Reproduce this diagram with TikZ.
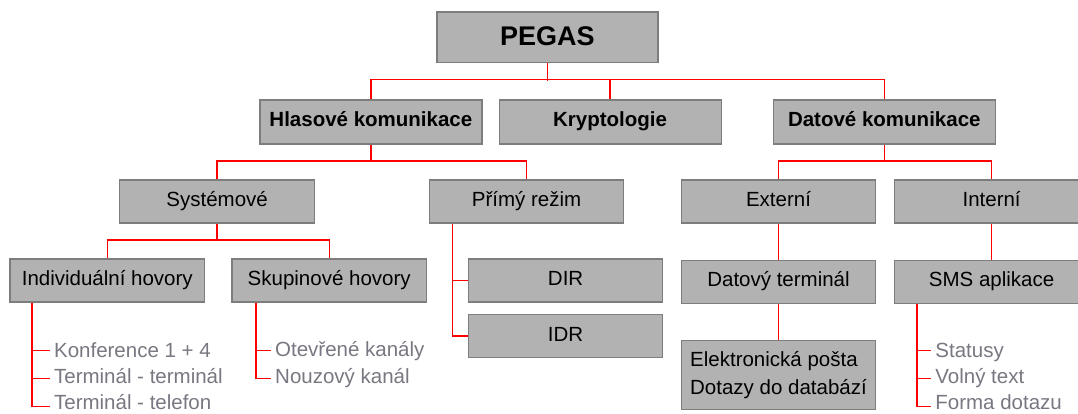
\documentclass[tikz,border=0pt]{standalone}
\usepackage{fontspec}
\setmainfont{Liberation Sans}
\usetikzlibrary{positioning}

\definecolor{boxfill}{RGB}{178,178,178}
\definecolor{boxedge}{RGB}{125,125,125}
\definecolor{itemgray}{RGB}{120,120,130}

\begin{document}
\begin{tikzpicture}[
    x=1pt, y=-1pt,
    every node/.style={font=\fontsize{20.5}{24}\selectfont},
    cell/.style={draw=boxedge, fill=boxfill, line width=1.2pt, minimum width=194.5pt, minimum height=43pt, inner sep=0pt},
    unit/.style={cell, text height=15pt, text depth=5pt},
    head/.style={unit, minimum width=222pt, minimum height=44pt, font=\fontsize{20.5}{24}\selectfont\bfseries},
    item/.style={anchor=west, inner xsep=4pt, inner ysep=0pt, text height=14pt, text depth=0pt, text=itemgray},
    link/.style={draw=red, line width=1.4pt}
]
\fill[white] (0,0) rectangle (1078,414);
\useasboundingbox (0,0) rectangle (1078,414);

% top and first level
\node[head, minimum width=221pt, minimum height=50.7pt, text height=20pt, text depth=4pt, font=\fontsize{27}{30}\selectfont\bfseries] (pegas) at (547.4,37.4) {PEGAS};
\node[head] (hlas) at (370.9,122) {Hlasové komunikace};
\node[head, right=16pt of hlas] (kryp) {Kryptologie};
\node[head, right=51pt of kryp] (datk) {Datové komunikace};

% second level
\node[unit] (syst) at (217.1,201.5) {Systémové};
\node[unit, right=113.8pt of syst] (prim) {Přímý režim};
\node[unit, right=56.2pt of prim] (ext) {Externí};
\node[unit, right=17.4pt of ext] (int) {Interní};

% third level
\node[unit] (indiv) at (107.3,280.5) {Individuální hovory};
\node[unit, right=26.2pt of indiv] (skup) {Skupinové hovory};
\node[unit] (dir) at (565.6,280.5) {DIR};
\node[unit, below=11.3pt of dir] (idr) {IDR};
\node[unit, below=36pt of ext] (dterm) {Datový terminál};
\node[unit, below=36pt of int] (sms) {SMS aplikace};
\node[cell, below=36pt of dterm, minimum height=69.3pt, align=left, font=\fontsize{20.5}{28}\selectfont] (epost) {Elektronická pošta\\Dotazy do databází};

% lists
\node[item] (konf) at (49.9,350.3) {Konference 1 + 4};
\node[item] (term) at (49.9,376.3) {Terminál - terminál};
\node[item] (tel) at (49.9,402.3) {Terminál - telefon};
\node[item] (otev) at (271,349.7) {Otevřené kanály};
\node[item] (nouz) at (271,376.3) {Nouzový kanál};
\node[item] (stat) at (931.2,350.3) {Statusy};
\node[item] (voln) at (931.2,376.3) {Volný text};
\node[item] (form) at (931.2,402.3) {Forma dotazu};

% tree lines
\draw[link] (pegas.south) -- ++(0,17.6);
\draw[link] (hlas.north) -- ++(0,-19.7) -| (datk.north);
\draw[link] (kryp.north) -- ++(0,-19.7);
\draw[link] (hlas.south) -- ++(0,17.7);
\draw[link] (syst.north) -- ++(0,-18.3) -| (prim.north);
\draw[link] (datk.south) -- ++(0,17.7);
\draw[link] (ext.north) -- ++(0,-18.3) -| (int.north);
\draw[link] (syst.south) -- ++(0,17.7);
\draw[link] (indiv.north) -- ++(0,-18.3) -| (skup.north);
\draw[link] ([xshift=24pt]prim.south west) |- (dir.west);
\draw[link] ([xshift=24pt]prim.south west) |- (idr.west);
\draw[link] (ext.south) -- (dterm.north);
\draw[link] (dterm.south) -- (epost.north);
\draw[link] (int.south) -- (sms.north);

% list ticks (they sit a little below the text)
\foreach \t/\s in {konf/0,term/2.4,tel/4.4}
  \draw[link] ([xshift=22.7pt]indiv.south west) |- ([yshift=-\s pt]\t.west);
\foreach \t/\s in {otev/1,nouz/2.4}
  \draw[link] ([xshift=24.5pt]skup.south west) |- ([yshift=-\s pt]\t.west);
\foreach \t/\s in {stat/0,voln/2.4,form/4.4}
  \draw[link] ([xshift=23.3pt]sms.south west) |- ([yshift=-\s pt]\t.west);
\end{tikzpicture}
\end{document}
